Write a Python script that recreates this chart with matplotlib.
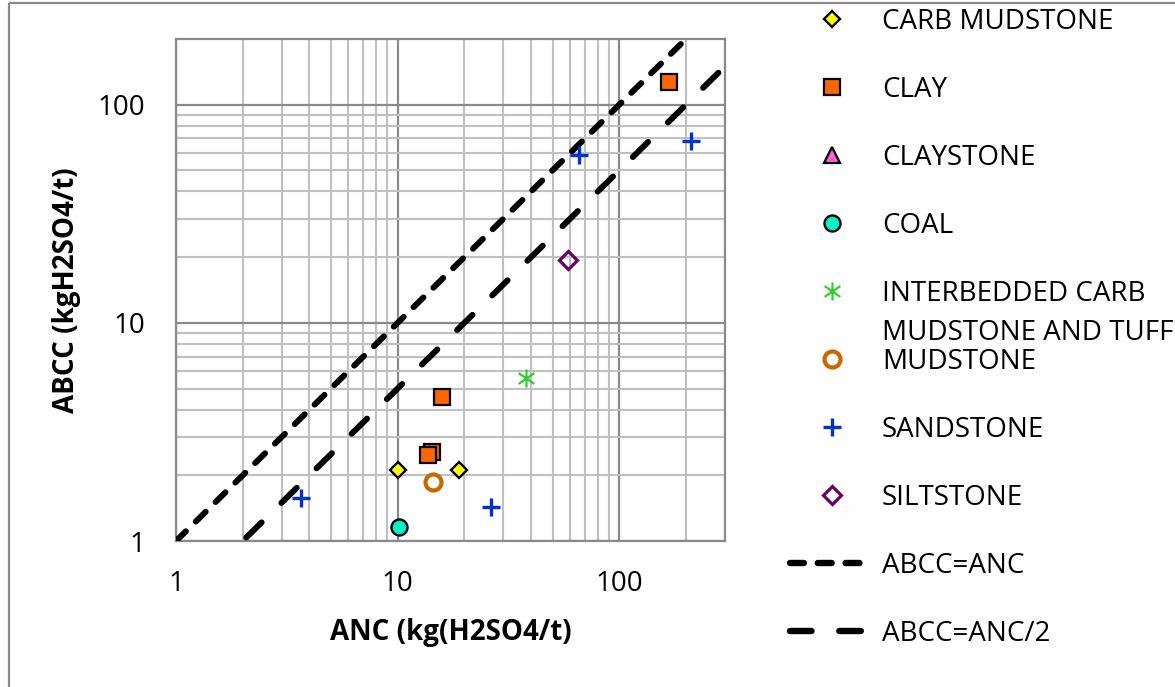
import matplotlib
matplotlib.use("Agg")
import matplotlib.pyplot as plt
from matplotlib.path import Path
from matplotlib.ticker import LogLocator, FixedLocator, NullFormatter, FixedFormatter

plt.rcParams["font.family"] = ["Open Sans", "DejaVu Sans"]
plt.rcParams["lines.scale_dashes"] = False

# ── Data: acid base account by lithology (kg H2SO4/t) ──────────────────
carb_mudstone_anc = [10.0, 19.0]
carb_mudstone_abcc = [2.12, 2.12]

clay_anc = [167.0, 15.9, 14.3, 13.7]
clay_abcc = [127.0, 4.55, 2.55, 2.47]

claystone_anc = []
claystone_abcc = []

coal_anc = [10.1]
coal_abcc = [1.16]

interbedded_anc = [38.0]
interbedded_abcc = [5.57]

mudstone_anc = [14.4]
mudstone_abcc = [1.86]

sandstone_anc = [3.65, 26.5, 65.5, 210.0]
sandstone_abcc = [1.57, 1.43, 59.0, 68.0]

siltstone_anc = [58.5]
siltstone_abcc = [19.4]

ref_anc = [1.0, 300.0]

x_ticks = [1, 10, 100]
y_ticks = [1, 10, 100]

# Excel style asterisk: vertical bar crossed by an X
asterisk = Path(
    [(0, -1), (0, 1), (-0.87, -0.6), (0.87, 0.6), (-0.87, 0.6), (0.87, -0.6)],
    [Path.MOVETO, Path.LINETO, Path.MOVETO, Path.LINETO, Path.MOVETO, Path.LINETO],
)

series = [
    ("CARB MUDSTONE", carb_mudstone_anc, carb_mudstone_abcc,
     dict(marker="D", ms=8.6, mfc="#FFFF00", mec="black", mew=1.7)),
    ("CLAY", clay_anc, clay_abcc,
     dict(marker="s", ms=11, mfc="#FF6600", mec="black", mew=1.6)),
    ("CLAYSTONE", claystone_anc, claystone_abcc,
     dict(marker="^", ms=11, mfc="#FF66CC", mec="black", mew=1.6)),
    ("COAL", coal_anc, coal_abcc,
     dict(marker="o", ms=11.5, mfc="#00F2C8", mec="black", mew=1.7)),
    ("INTERBEDDED CARB", interbedded_anc, interbedded_abcc,
     dict(marker=asterisk, ms=13, mfc="none", mec="#33CC33", mew=1.6)),
    ("MUDSTONE", mudstone_anc, mudstone_abcc,
     dict(marker="o", ms=11.5, mfc="none", mec="#CC6600", mew=3)),
    ("SANDSTONE", sandstone_anc, sandstone_abcc,
     dict(marker="+", ms=12.5, mfc="none", mec="#0033CC", mew=2.4)),
    ("SILTSTONE", siltstone_anc, siltstone_abcc,
     dict(marker="D", ms=8.8, mfc="none", mec="#660066", mew=2.3)),
]

lines = [
    ("ABCC=ANC", 1.0, (0, (10.0, 10.0))),
    ("ABCC=ANC/2", 0.5, (0, (15.5, 20.0))),
]

# ── Figure ──────────────────────────────────────────────────────────────
W, H = 1175, 687
fig = plt.figure(figsize=(W / 100, H / 100), dpi=100)
ax = fig.add_axes([176 / W, (H - 541) / H, (725 - 176) / W, (541 - 39) / H])

for name, xs, ys, style in series:
    ax.plot(xs, ys, linestyle="none", zorder=4, **style)

for name, factor, dash in lines:
    ax.plot(ref_anc, [v * factor for v in ref_anc], color="black", lw=4.3,
            linestyle=dash, dash_capstyle="round", zorder=3)

ax.set_xscale("log")
ax.set_yscale("log")
ax.set_xlim(1, 300)
ax.set_ylim(1, 200)

for axis, ticks in ((ax.xaxis, x_ticks), (ax.yaxis, y_ticks)):
    axis.set_major_locator(FixedLocator(ticks))
    axis.set_major_formatter(FixedFormatter([str(t) for t in ticks]))
    axis.set_minor_locator(LogLocator(base=10, subs=range(2, 10)))
    axis.set_minor_formatter(NullFormatter())

ax.grid(which="major", color="#8A8A8A", lw=1.6, zorder=1)
ax.grid(which="minor", color="#C0C0C0", lw=1.5, zorder=0)
ax.set_axisbelow(True)
for sp in ax.spines.values():
    sp.set_color("#8A8A8A")
    sp.set_linewidth(1.6)

ax.tick_params(which="both", length=0, labelsize=20, colors="black")
ax.tick_params(axis="x", pad=21)
ax.tick_params(axis="y", pad=22)

ax.set_xlabel("ANC (kg(H2SO4/t)", fontsize=20, fontweight="bold", labelpad=14)
ax.set_ylabel("ABCC (kgH2SO4/t)", fontsize=20, fontweight="bold", labelpad=12)

# ── Legend and chart frame, laid out in pixel coordinates ───────────────
lax = fig.add_axes([0, 0, 1, 1], zorder=5)
lax.set_xlim(0, W)
lax.set_ylim(H, 0)
lax.axis("off")
lax.patch.set_alpha(0)

lax.plot([9, W + 5], [3, 3], color="#8A8A8A", lw=1.6, solid_capstyle="butt")
lax.plot([9, 9], [3, H + 5], color="#8A8A8A", lw=1.6, solid_capstyle="butt")

row_y = 19
step = 68
for name, xs, ys, style in series:
    lax.plot([832], [row_y], linestyle="none", **style)
    lax.text(882, row_y + 10, name, fontsize=20, va="baseline", ha="left")
    if name == "INTERBEDDED CARB":
        lax.text(882, row_y + 49, "MUDSTONE AND TUFF", fontsize=20,
                 va="baseline", ha="left")
    row_y += step

for name, factor, dash in lines:
    lax.plot([790, 861], [row_y, row_y], color="black", lw=4.6,
             linestyle=dash, dash_capstyle="round")
    lax.text(882, row_y + 10, name, fontsize=20, va="baseline", ha="left")
    row_y += step

fig.savefig("out.png", dpi=100)
